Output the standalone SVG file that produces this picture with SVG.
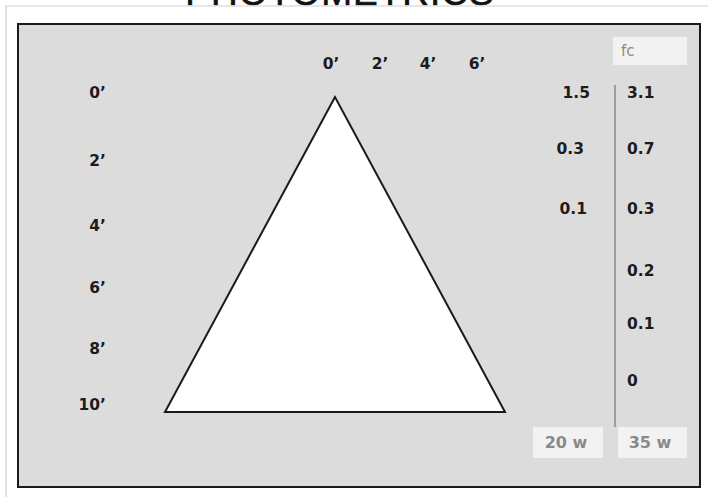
<svg xmlns="http://www.w3.org/2000/svg" width="708" height="497" viewBox="0 0 708 497">
<style>
.lbl{font-family:"DejaVu Sans","Liberation Sans",sans-serif;font-weight:bold;font-size:15.5px;fill:#1c1c1c}
.tag{font-family:"DejaVu Sans","Liberation Sans",sans-serif;font-weight:bold;font-size:16px;fill:#8a8a8a}
.box{fill:#f2f2f2}
</style>
<rect x="0" y="0" width="708" height="497" fill="#ffffff"/>
<text x="340" y="5" text-anchor="middle" font-family="Liberation Sans, sans-serif" font-size="37" fill="#111" letter-spacing="1" stroke="#111" stroke-width="0.6">PHOTOMETRICS</text>
<path d="M6,497 V6 H708" fill="none" stroke="#cfcfcf" stroke-width="1.2"/>
<rect x="18" y="24" width="682" height="463" fill="#dcdcdc" stroke="#1a1a1a" stroke-width="2"/>
<g id="beam">
<polygon points="335,97 165,412 505,412" fill="#ffffff" stroke="#1a1a1a" stroke-width="2" stroke-linejoin="miter"/>
</g>
<g id="top-scale">
<text class="lbl" x="331" y="69" text-anchor="middle">0’</text>
<text class="lbl" x="380" y="69" text-anchor="middle">2’</text>
<text class="lbl" x="428" y="69" text-anchor="middle">4’</text>
<text class="lbl" x="477" y="69" text-anchor="middle">6’</text>
</g>
<g id="left-scale">
<text class="lbl" x="106" y="98" text-anchor="end">0’</text>
<text class="lbl" x="106" y="166" text-anchor="end">2’</text>
<text class="lbl" x="106" y="231" text-anchor="end">4’</text>
<text class="lbl" x="106" y="293" text-anchor="end">6’</text>
<text class="lbl" x="106" y="354" text-anchor="end">8’</text>
<text class="lbl" x="106" y="410" text-anchor="end">10’</text>
</g>
<g id="col-20w">
<text class="lbl" x="590" y="98" text-anchor="end">1.5</text>
<text class="lbl" x="584" y="154" text-anchor="end">0.3</text>
<text class="lbl" x="587" y="214" text-anchor="end">0.1</text>
<rect class="box" x="533" y="427" width="70" height="31"/>
<text class="tag" x="566" y="448" text-anchor="middle">20 w</text>
</g>
<g id="col-35w">
<rect class="box" x="613" y="37" width="74" height="28"/>
<text class="tag" x="621" y="56" style="font-weight:normal;font-size:15px">fc</text>
<text class="lbl" x="627" y="98">3.1</text>
<text class="lbl" x="627" y="154">0.7</text>
<text class="lbl" x="627" y="214">0.3</text>
<text class="lbl" x="627" y="276">0.2</text>
<text class="lbl" x="627" y="329">0.1</text>
<text class="lbl" x="627" y="386">0</text>
<rect class="box" x="618" y="427" width="69" height="31"/>
<text class="tag" x="650" y="448" text-anchor="middle">35 w</text>
</g>
<g id="divider">
<line x1="615" y1="85" x2="615" y2="427" stroke="#8a8a8a" stroke-width="1.5"/>
</g>
</svg>
